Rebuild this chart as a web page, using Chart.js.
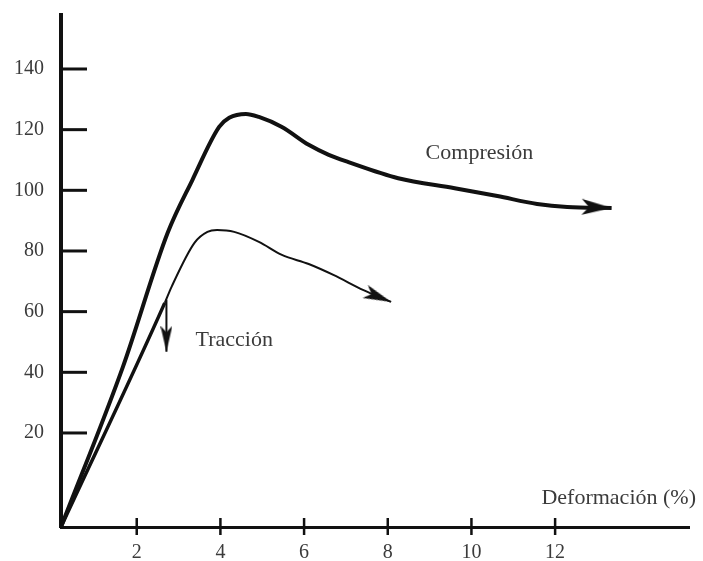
<!DOCTYPE html>
<html>
<head>
<meta charset="utf-8">
<script src="https://cdn.jsdelivr.net/npm/chart.js@4.4.1/dist/chart.umd.min.js"></script>
<style>
  html, body { margin: 0; padding: 0; background: #fff; }
  #wrap { width: 703px; height: 561px; }
</style>
</head>
<body>
<div id="wrap"><canvas id="chart"></canvas></div>
<script>
// values: strain (%) and stress
const compX = [0.19, 1.67, 2.74, 3.33, 3.97, 4.21, 4.61, 4.92, 5.47, 6.11, 6.59, 7.06, 8.25, 9.6, 10.62, 11.57, 12.29, 13.35];
const compY = [-11, 41.8, 86, 103.4, 120.9, 123.9, 125.2, 124.2, 120.9, 115, 111.7, 109.3, 104, 100.7, 98.1, 95.5, 94.5, 94.2];

const tracX = [0.19, 2.67, 2.83, 3.38, 3.69, 3.92, 4.33, 4.92, 5.47, 6.11, 6.7, 7.42, 8.08];
const tracY = [-11, 62.9, 68.1, 82.7, 86.3, 86.9, 86.3, 83, 78.7, 75.7, 72.1, 67.1, 63.2];

// short downward arrow on the tension branch
const dropX = [2.71, 2.71];
const dropY = [63.9, 46.8];

const xTicks = [2, 4, 6, 8, 10, 12];
const yTicks = [20, 40, 60, 80, 100, 120, 140];

const labels = [
  { text: 'Compresión', x: 10.19, y: 112.3 },
  { text: 'Tracción', x: 4.33, y: 50.6 },
  { text: 'Deformación (%)', x: 13.52, y: -1.4 },
];

const ink = '#111';
const textColor = '#3b3b3b';
const serif = '"Liberation Serif", "DejaVu Serif", serif';

const pts = (xs, ys) => xs.map((x, i) => ({ x, y: ys[i] }));

// arrow head image, tip sits at the centre of the canvas
function arrowHead(len, wide) {
  const c = document.createElement('canvas');
  c.width = len * 2;
  c.height = wide;
  const g = c.getContext('2d');
  g.fillStyle = ink;
  g.beginPath();
  g.moveTo(0, 0);
  g.lineTo(len, wide / 2);
  g.lineTo(0, wide);
  g.lineTo(len * 0.25, wide / 2);
  g.closePath();
  g.fill();
  return c;
}

const headBig = arrowHead(30, 16);
const headMid = arrowHead(28, 14);
const headSmall = arrowHead(26, 12);

function endArrow(n, img, rot) {
  return {
    pointStyle: ctx => ctx.dataIndex === n - 1 ? img : 'circle',
    pointRadius: ctx => ctx.dataIndex === n - 1 ? 10 : 0,
    pointRotation: rot,
  };
}

function noPad(s) {
  s.paddingTop = 0;
  s.paddingBottom = 0;
  s.paddingLeft = 0;
  s.paddingRight = 0;
}

const tickMarks = {
  id: 'tickMarks',
  afterDraw(chart) {
    const { ctx, scales: { x, y }, chartArea } = chart;
    ctx.save();
    ctx.strokeStyle = ink;
    ctx.lineWidth = 3;
    yTicks.forEach(v => {
      const py = y.getPixelForValue(v);
      ctx.beginPath();
      ctx.moveTo(chartArea.left, py);
      ctx.lineTo(chartArea.left + 26, py);
      ctx.stroke();
    });
    ctx.lineWidth = 2.5;
    xTicks.forEach(v => {
      const px = x.getPixelForValue(v);
      ctx.beginPath();
      ctx.moveTo(px, chartArea.bottom - 9);
      ctx.lineTo(px, chartArea.bottom + 8);
      ctx.stroke();
    });
    ctx.fillStyle = textColor;
    ctx.font = '22px ' + serif;
    ctx.textAlign = 'center';
    ctx.textBaseline = 'middle';
    labels.forEach(l => {
      ctx.fillText(l.text, x.getPixelForValue(l.x), y.getPixelForValue(l.y));
    });
    ctx.restore();
  }
};

new Chart(document.getElementById('chart'), {
  type: 'line',
  data: {
    datasets: [
      {
        label: 'Compresión',
        data: pts(compX, compY),
        borderColor: ink,
        borderWidth: 4,
        cubicInterpolationMode: 'monotone',
        ...endArrow(compX.length, headBig, 2),
      },
      {
        label: 'Tracción',
        data: pts(tracX, tracY),
        borderColor: ink,
        borderWidth: 2,
        cubicInterpolationMode: 'monotone',
        segment: {
          borderWidth: ctx => ctx.p0DataIndex === 0 ? 3.5 : 2,
        },
        ...endArrow(tracX.length, headMid, 22),
      },
      {
        label: 'drop',
        data: pts(dropX, dropY),
        borderColor: ink,
        borderWidth: 2,
        ...endArrow(dropX.length, headSmall, 90),
      },
    ],
  },
  options: {
    responsive: true,
    maintainAspectRatio: false,
    animation: false,
    clip: false,
    layout: { padding: { top: 15, right: 6, left: 0, bottom: 0 } },
    plugins: {
      legend: { display: false },
      tooltip: { enabled: false },
    },
    scales: {
      x: {
        type: 'linear',
        min: 0.19,
        max: 15.2,
        afterFit: s => { s.height = 34; noPad(s); },
        afterBuildTicks: s => { s.ticks = xTicks.map(v => ({ value: v })); },
        grid: { display: false, drawTicks: false },
        border: { display: true, color: ink, width: 3 },
        ticks: {
          color: textColor,
          font: { family: serif, size: 20 },
          padding: 14,
          maxRotation: 0,
        },
      },
      y: {
        type: 'linear',
        min: -11,
        max: 157.8,
        afterFit: s => { s.width = 61; noPad(s); },
        afterBuildTicks: s => { s.ticks = yTicks.map(v => ({ value: v })); },
        grid: { display: false, drawTicks: false },
        border: { display: true, color: ink, width: 4 },
        ticks: {
          color: textColor,
          font: { family: serif, size: 20 },
          padding: 17,
        },
      },
    },
  },
  plugins: [tickMarks],
});
</script>
</body>
</html>
